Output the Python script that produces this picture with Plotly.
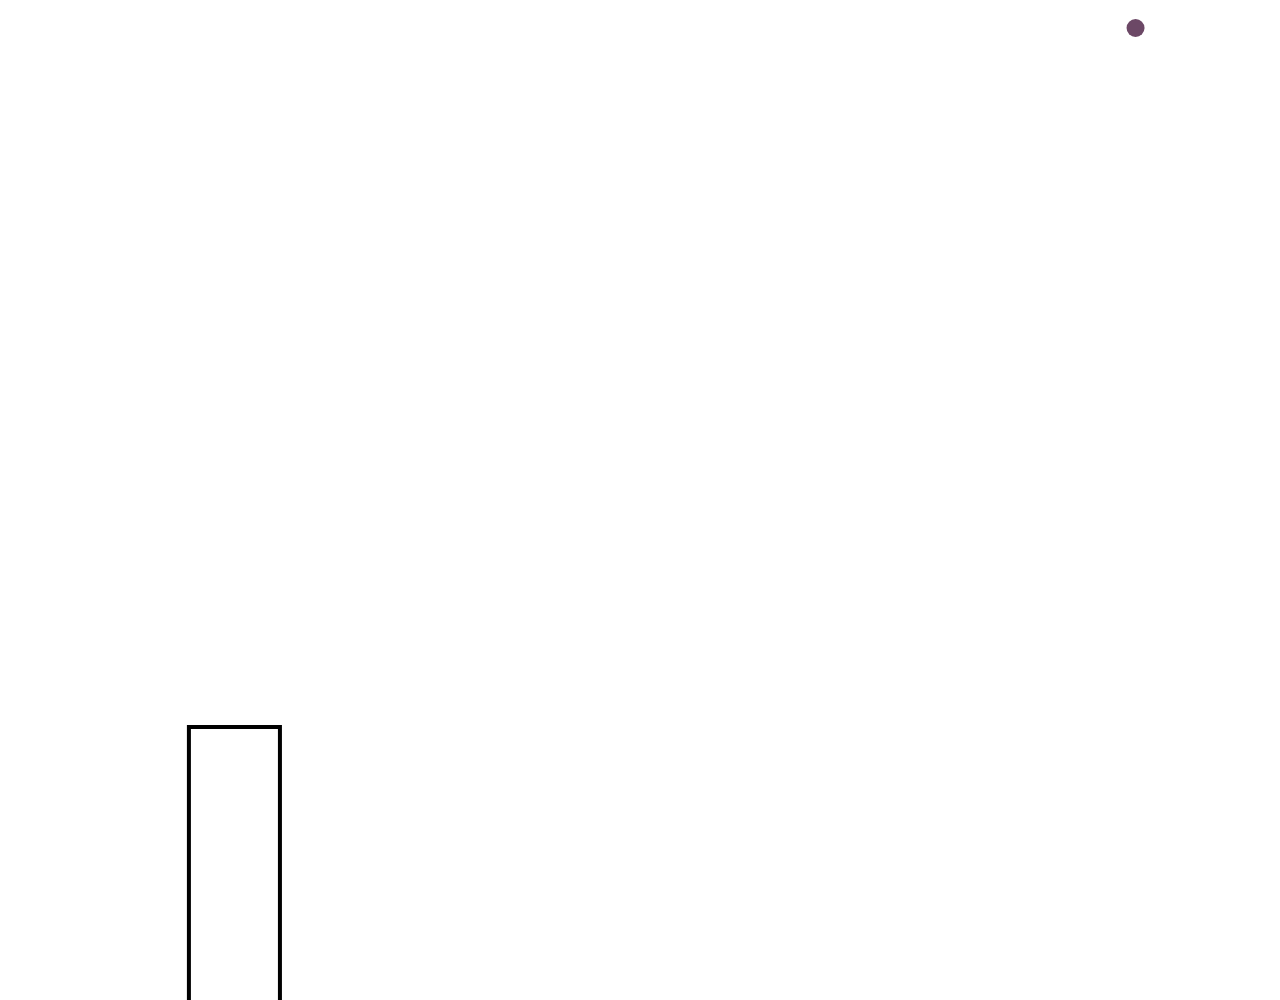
import plotly.graph_objects as go

# --- data ---
bar_x = [0]
bar_y = [3.23]
dot_x = [7.92]
dot_y = [10.22]

BAR_EDGE = "#000000"
DOT_COLOR = "#6c4866"

fig = go.Figure()

fig.add_trace(go.Bar(
    x=bar_x, y=bar_y, width=0.8,
    marker=dict(color="white", line=dict(color=BAR_EDGE, width=4)),
    showlegend=False, hoverinfo="none",
))

fig.add_trace(go.Scatter(
    x=dot_x, y=dot_y, mode="markers",
    marker=dict(color=DOT_COLOR, size=18, line=dict(width=0)),
    showlegend=False, hoverinfo="none",
))

# page body has an 8px margin, so ranges are nudged to compensate
fig.update_layout(
    width=1280, height=1000,
    margin=dict(l=0, r=0, t=0, b=0),
    paper_bgcolor="white", plot_bgcolor="white",
    xaxis=dict(range=[-1.99, 9.26], visible=False),
    yaxis=dict(range=[0.42, 10.42], visible=False),
)

fig.write_html("out.html")
